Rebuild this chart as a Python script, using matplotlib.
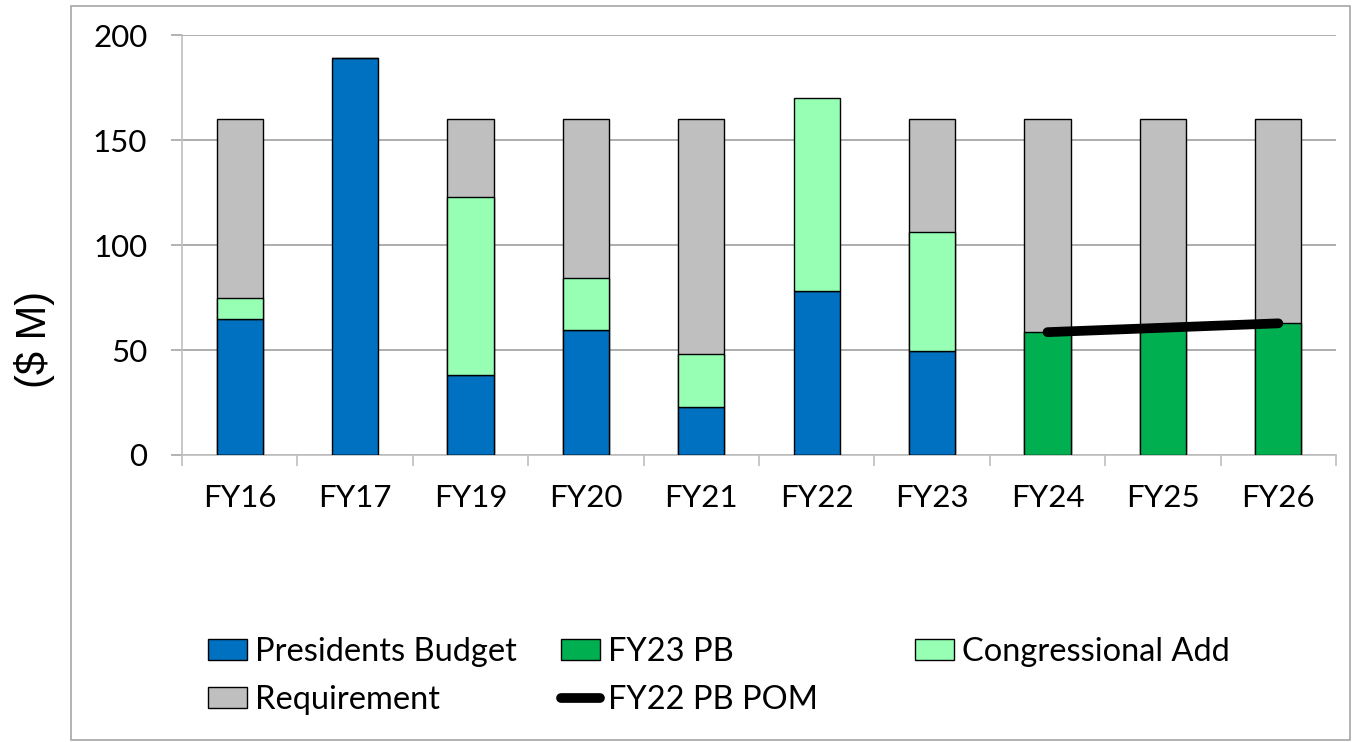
import numpy as np
import matplotlib.pyplot as plt
from matplotlib.patches import Rectangle, Patch
from matplotlib.lines import Line2D

plt.rcParams['font.family'] = ['Lato', 'DejaVu Sans']

# data
years = ['FY16', 'FY17', 'FY19', 'FY20', 'FY21', 'FY22', 'FY23', 'FY24', 'FY25', 'FY26']
pres_budget = [65, 189, 38, 59.5, 23, 78, 49.5, 0, 0, 0]
congress_add = [10, 0, 85, 25, 25, 92, 56.5, 0, 0, 0]
fy23_pb = [0, 0, 0, 0, 0, 0, 0, 58.6, 60.5, 63]
requirement = [160, 0, 160, 160, 160, 0, 160, 160, 160, 160]
pom_years = ['FY24', 'FY25', 'FY26']
pom_values = [58.5, 60.6, 62.7]

c_pb = '#0070C0'
c_fy23 = '#00B050'
c_ca = '#96FFB4'
c_req = '#BFBFBF'

fig = plt.figure(figsize=(13.55, 7.42), dpi=100)
ax = fig.add_axes([0.1343, 0.3868, 0.8517, 0.566])

x = np.arange(len(years))
w = 0.4
pb = np.array(pres_budget)
ca = np.array(congress_add)
f23 = np.array(fy23_pb)

ax.bar(x, requirement, w, color=c_req, edgecolor='black', linewidth=1, zorder=2)
ax.bar(x, pb, w, color=c_pb, edgecolor='black', linewidth=1, zorder=3)
ax.bar(x, ca, w, bottom=pb, color=c_ca, edgecolor='black', linewidth=1, zorder=3)
ax.bar(x, f23, w, color=c_fy23, edgecolor='black', linewidth=1, zorder=3)
px = [years.index(y) for y in pom_years]
ax.plot(px, pom_values, color='black', linewidth=7, solid_capstyle='round', zorder=4)

ax.set_xlim(-0.5, len(years) - 0.5)
ax.set_ylim(0, 200)
ax.set_yticks([0, 50, 100, 150, 200])
ax.set_xticks(x)
ax.set_xticklabels(years)
ax.set_xticks(np.arange(-0.5, len(years), 1), minor=True)
ax.tick_params(axis='x', which='major', length=0, pad=21, labelsize=22.5)
ax.tick_params(axis='x', which='minor', length=8, color='#BFBFBF', width=1.2)
ax.tick_params(axis='y', length=8, color='#A6A6A6', width=1.2, pad=17, labelsize=22.5)
ax.grid(axis='y', color='#A0A0A0', linewidth=1.2, zorder=0)
ax.set_axisbelow(True)
for s in ['top', 'right']:
    ax.spines[s].set_visible(False)
ax.spines['left'].set_color('#BFBFBF')
ax.spines['bottom'].set_color('#BFBFBF')
ax.spines['left'].set_linewidth(1.2)
ax.spines['bottom'].set_linewidth(1.2)

ax.set_ylabel('($ M)', fontsize=30, family=['Liberation Sans', 'DejaVu Sans'])
ax.yaxis.set_label_coords(-0.11, 0.274)

# legend, three columns placed like the original
h_pb = Patch(facecolor=c_pb, edgecolor='black')
h_req = Patch(facecolor=c_req, edgecolor='black')
h_f23 = Patch(facecolor=c_fy23, edgecolor='black')
h_pom = Line2D([], [], color='black', linewidth=7, solid_capstyle='round')
h_ca = Patch(facecolor=c_ca, edgecolor='black')
common = dict(frameon=False, fontsize=23.5, handlelength=1.2, handleheight=0.6,
              handletextpad=0.25, labelspacing=0.55, borderpad=0, borderaxespad=0,
              loc='upper left')
top = 1 - 637 / 742
fig.legend([h_pb, h_req], ['Presidents Budget', 'Requirement'],
           bbox_to_anchor=(208 / 1355, top), **common)
fig.legend([h_f23, h_pom], ['FY23 PB', 'FY22 PB POM'],
           bbox_to_anchor=(561 / 1355, top), **common)
fig.legend([h_ca], ['Congressional Add'],
           bbox_to_anchor=(915 / 1355, top), **common)

# chart border
fig.patches.append(Rectangle((71 / 1355, 2 / 742), 1279 / 1355, 734 / 742,
                             transform=fig.transFigure, fill=False,
                             edgecolor='#A6A6A6', linewidth=1.2))

fig.savefig('out.png', dpi=100)
